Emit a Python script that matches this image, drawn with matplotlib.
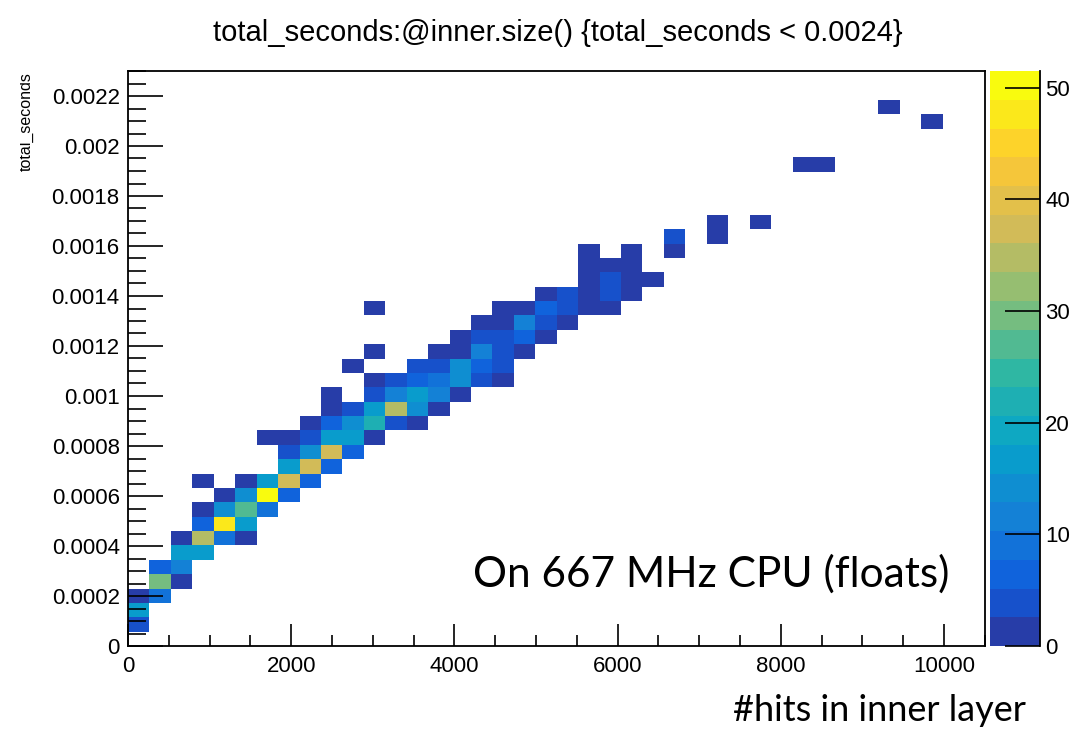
import numpy as np
from matplotlib import pyplot as plt
from matplotlib import colors, ticker
from matplotlib.transforms import Bbox, TransformedBbox

plt.rcParams['font.family'] = ['Liberation Sans', 'DejaVu Sans']

# 读取的直方图单元：每个非空格子的 (#hits, total_seconds, 计数)
hits = [
    130,
    130,
    130, 390,
    390, 660,
    390, 660,
    660, 920,
    660, 920, 1180, 1450,
    920, 1180, 1450,
    920, 1180, 1450, 1710,
    1180, 1450, 1710, 1970,
    920, 1450, 1710, 1970, 2230,
    1970, 2230, 2500,
    1970, 2230, 2500, 2760,
    1710, 1970, 2230, 2500, 2760, 3020,
    2230, 2500, 2760, 3020, 3280, 3550,
    2500, 2760, 3020, 3280, 3550, 3810,
    2500, 3020, 3280, 3550, 3810, 4070,
    3020, 3280, 3550, 3810, 4070, 4340, 4600,
    2760, 3550, 3810, 4070, 4340, 4600,
    3020, 3810, 4070, 4340, 4600, 4860,
    4070, 4340, 4600, 4860, 5120,
    4340, 4600, 4860, 5120, 5390,
    3020, 4600, 4860, 5120, 5390, 5650, 5910,
    5120, 5390, 5650, 5910, 6170,
    5650, 5910, 6170, 6440,
    5650, 5910, 6170,
    5650, 6170, 6700,
    6700, 7220,
    7220, 7750,
    8280, 8540,
    9850,
    9330,
]
seconds = [
    0.000086,
    0.000144,
    0.000201, 0.000201,
    0.000259, 0.000259,
    0.000316, 0.000316,
    0.000374, 0.000374,
    0.000431, 0.000431, 0.000431, 0.000431,
    0.000489, 0.000489, 0.000489,
    0.000546, 0.000546, 0.000546, 0.000546,
    0.000604, 0.000604, 0.000604, 0.000604,
    0.000661, 0.000661, 0.000661, 0.000661, 0.000661,
    0.000719, 0.000719, 0.000719,
    0.000776, 0.000776, 0.000776, 0.000776,
    0.000834, 0.000834, 0.000834, 0.000834, 0.000834, 0.000834,
    0.000891, 0.000891, 0.000891, 0.000891, 0.000891, 0.000891,
    0.000949, 0.000949, 0.000949, 0.000949, 0.000949, 0.000949,
    0.001006, 0.001006, 0.001006, 0.001006, 0.001006, 0.001006,
    0.001064, 0.001064, 0.001064, 0.001064, 0.001064, 0.001064, 0.001064,
    0.001121, 0.001121, 0.001121, 0.001121, 0.001121, 0.001121,
    0.001179, 0.001179, 0.001179, 0.001179, 0.001179, 0.001179,
    0.001236, 0.001236, 0.001236, 0.001236, 0.001236,
    0.001294, 0.001294, 0.001294, 0.001294, 0.001294,
    0.001351, 0.001351, 0.001351, 0.001351, 0.001351, 0.001351, 0.001351,
    0.001409, 0.001409, 0.001409, 0.001409, 0.001409,
    0.001466, 0.001466, 0.001466, 0.001466,
    0.001524, 0.001524, 0.001524,
    0.001581, 0.001581, 0.001581,
    0.001639, 0.001639,
    0.001696, 0.001696,
    0.001926, 0.001926,
    0.002099,
    0.002156,
]
entries = [
    4,
    18,
    1, 10,
    30, 1,
    6, 11,
    17, 17,
    1, 35, 10, 1,
    6, 48, 18,
    1, 15, 27, 10,
    1, 14, 51, 6,
    1, 1, 18, 38, 6,
    18, 38, 6,
    4, 15, 38, 7,
    1, 1, 4, 18, 18, 1,
    1, 6, 15, 22, 4, 1,
    1, 4, 18, 35, 15, 1,
    1, 4, 12, 18, 11, 1,
    1, 4, 6, 9, 14, 4, 1,
    1, 4, 4, 14, 7, 4,
    1, 1, 1, 11, 4, 1,
    1, 4, 4, 7, 1,
    1, 1, 11, 4, 1,
    1, 1, 1, 6, 4, 1, 1,
    1, 4, 1, 4, 1,
    1, 4, 1, 1,
    1, 1, 1,
    1, 1, 1,
    4, 1,
    1, 1,
    1, 1,
    1,
    1,
]

x_ticks = [0, 2000, 4000, 6000, 8000, 10000]
y_ticks = [0, 0.0002, 0.0004, 0.0006, 0.0008, 0.001, 0.0012,
           0.0014, 0.0016, 0.0018, 0.002, 0.0022]
z_ticks = [0, 10, 20, 30, 40, 50]

# ROOT 的 kBird 调色板，20 个等级
bird = colors.LinearSegmentedColormap.from_list('bird', [
    (0.2082, 0.1664, 0.5293), (0.0592, 0.3599, 0.8684),
    (0.0780, 0.5041, 0.8385), (0.0232, 0.6419, 0.7914),
    (0.1802, 0.7178, 0.6425), (0.5301, 0.7492, 0.4662),
    (0.8186, 0.7328, 0.3499), (0.9956, 0.7862, 0.1968),
    (0.9764, 0.9832, 0.0539)])
cmap = colors.ListedColormap([bird((k + 1) / 20) for k in range(20)])
norm = colors.Normalize(vmin=0, vmax=51.5)

W, H = 1084, 731
fig = plt.figure(figsize=(W / 100, H / 100), dpi=100)
ax = fig.add_axes([128 / W, 1 - 646 / H, 857.5 / W, 575 / H])
cax = fig.add_axes([989.5 / W, 1 - 646 / H, 50 / W, 575 / H])

x_edges = np.linspace(0, 10510, 41)
y_edges = np.linspace(0, 0.0023, 41)
_, _, _, mesh = ax.hist2d(hits, seconds, bins=[x_edges, y_edges], weights=entries,
                          cmap=cmap, norm=norm, cmin=0.5)
ax.set_xlim(0, 10510)
ax.set_ylim(0, 0.0023)

ax.set_xticks(x_ticks)
ax.set_yticks(y_ticks)
ax.xaxis.set_minor_locator(ticker.MultipleLocator(500))
ax.yaxis.set_minor_locator(ticker.MultipleLocator(0.00005))
ax.yaxis.set_major_formatter(ticker.FuncFormatter(lambda v, p: '%g' % v))
ax.tick_params(axis='x', which='major', direction='in', length=16, width=1.2,
               labelsize=16, pad=7)
ax.tick_params(axis='x', which='minor', direction='in', length=8, width=1.2)
ax.tick_params(axis='y', which='major', direction='in', length=25, width=1.2,
               labelsize=16, pad=6)
ax.tick_params(axis='y', which='minor', direction='in', length=13, width=1.2)
for s in ax.spines.values():
    s.set_linewidth(1.3)

cbar = fig.colorbar(mesh, cax=cax)
cbar.outline.set_visible(False)
cbar.set_ticks(z_ticks)
cbar.minorticks_off()
cax.tick_params(direction='in', length=25, width=1.2, labelsize=16, pad=4)
cax.plot([1, 1], [0, 1], transform=cax.transAxes, color='black', lw=1.3,
         clip_on=False)

fig.text(558 / W, 1 - 33 / H, 'total_seconds:@inner.size() {total_seconds < 0.0024}',
         ha='center', va='center', fontsize=21)
yl = fig.text(34 / W, 1 - 72 / H, 'total_seconds', rotation=90,
              ha='right', va='top', fontsize=11.5)
yl.set_clip_box(TransformedBbox(Bbox([[20 / W, 0], [1, 1]]), fig.transFigure))

fig.text(473 / W, 1 - 587 / H, 'On 667 MHz CPU (floats)', family=['Lato', 'DejaVu Sans'],
         ha='left', va='baseline', fontsize=30.5)
fig.text(733 / W, 1 - 721 / H, '#hits in inner layer', family=['Lato', 'DejaVu Sans'],
         ha='left', va='baseline', fontsize=26)

plt.savefig('out.png', dpi=100)
